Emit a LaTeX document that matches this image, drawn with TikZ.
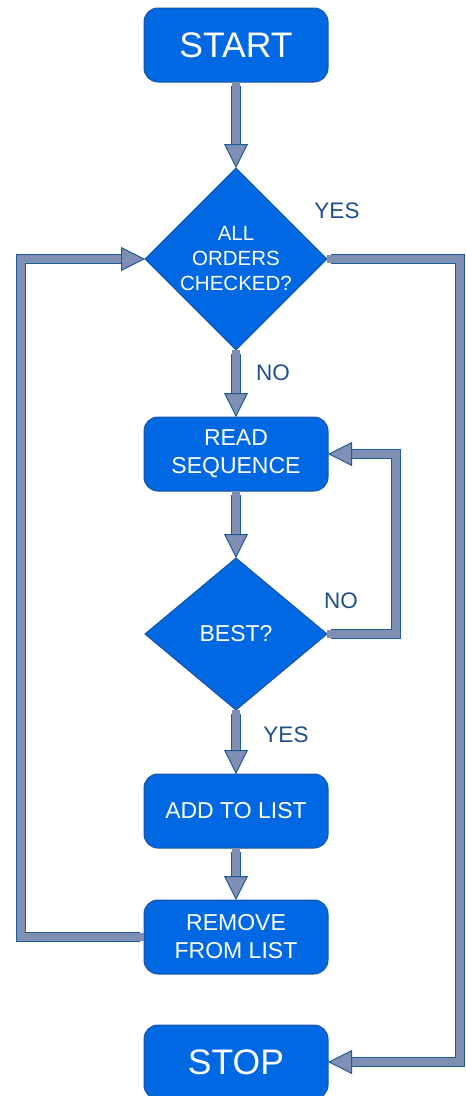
\documentclass[tikz,border=0pt]{standalone}
\usepackage{fontspec}
\setmainfont{Liberation Sans}
\usetikzlibrary{shapes.geometric}
\usetikzlibrary{arrows.meta}
\definecolor{boxblue}{HTML}{0068E2}
\definecolor{boxline}{HTML}{1A55A0}
\definecolor{shaftgrey}{HTML}{7F8FB4}
\definecolor{shaftline}{HTML}{1F5A99}
\definecolor{labelblue}{HTML}{1F4E8C}

\begin{document}
\begin{tikzpicture}
	[x=1pt, y=-1pt,
	box/.style={draw=boxline, fill=boxblue, line width=1pt, rounded corners=14pt,
		minimum width=184pt, minimum height=74pt, inner sep=0pt, outer sep=0pt,
		text=white, align=center, font=\fontsize{23}{28}\selectfont},
	big box/.style={box, font=\fontsize{35.5}{40}\selectfont},
	test/.style={diamond, draw=boxline, fill=boxblue, line width=1pt,
		minimum width=182pt, minimum height=#1, inner sep=0pt, outer sep=0pt,
		text=white, align=center, font=\fontsize{23}{28}\selectfont},
	answer/.style={text=labelblue, font=\fontsize{22.5}{26}\selectfont},
	flow/.style={draw=shaftgrey, line width=8pt, line cap=rect, line join=miter, shorten <=4pt,
		-{Triangle[length=24pt, width=24pt, color=shaftline, fill=shaftgrey, line width=1pt]},
		preaction={draw=shaftline, line width=10pt, -, shorten <=4pt, shorten >=17pt}}]

	\useasboundingbox (0,0) rectangle (466,1096);

	\coordinate (leftrail) at (21,0);
	\coordinate (innerrail) at (396,0);
	\coordinate (rightrail) at (460,0);

	\node[big box] (start) at (236,45) {START};
	\node[test=182pt, font=\fontsize{20.5}{25}\selectfont] (check) at (236,259) {ALL\\ORDERS\\CHECKED?};
	\node[box] (read) at (236,454) {READ\\SEQUENCE};
	\node[test=152pt] (best) at (236,634) {BEST?};
	\node[box] (add) at (236,811) {ADD TO LIST};
	\node[box] (remove) at (236,937) {REMOVE\\FROM LIST};
	\node[big box] (stop) at (236,1062) {STOP};

	\node[answer] (yes1) at (337,211) {YES};
	\node[answer] (no1) at (273,373) {NO};
	\node[answer] (no2) at (341,601) {NO};
	\node[answer] (yes2) at (286,735) {YES};

	\draw[flow] (start.south) -- (check.north);
	\draw[flow] (check.south) -- (read.north);
	\draw[flow] (read.south) -- (best.north);
	\draw[flow] (best.south) -- (add.north);
	\draw[flow] (add.south) -- (remove.north);
	% loops back
	\draw[flow] (remove.west) -- (remove.west -| leftrail) -- (check.west -| leftrail) -- (check.west);
	\draw[flow] (best.east) -- (best.east -| innerrail) -- (read.east -| innerrail) -- (read.east);
	\draw[flow] (check.east) -- (check.east -| rightrail) -- (stop.east -| rightrail) -- (stop.east);

\end{tikzpicture}
\end{document}
